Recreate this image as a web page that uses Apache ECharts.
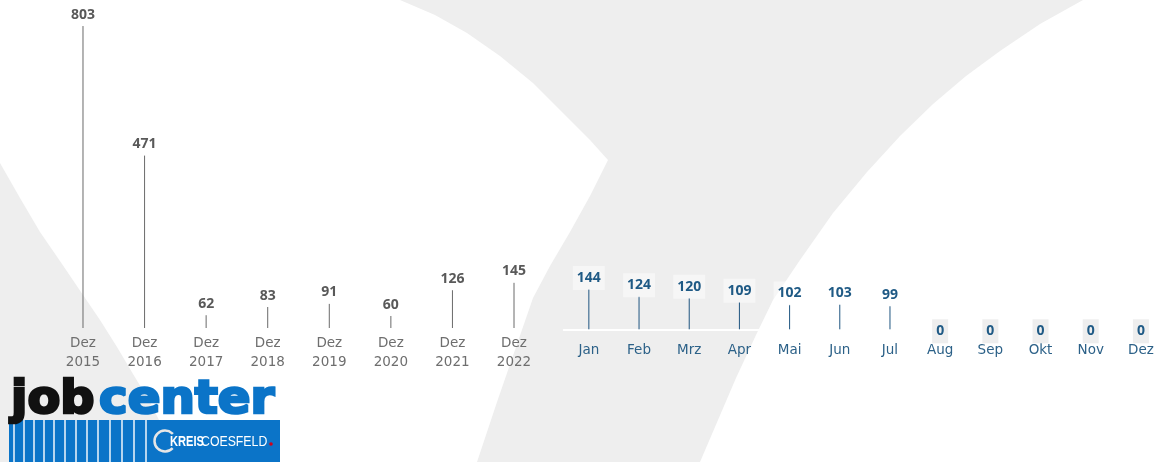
<!DOCTYPE html>
<html><head><meta charset="utf-8">
<script src="https://cdn.jsdelivr.net/npm/echarts@6/dist/echarts.min.js"></script>
<style>html,body{margin:0;padding:0;background:#fff}#c{width:1166px;height:462px}</style>
</head><body><div id="c"></div>
<script>
// ---- data ----
const annualCategories = ['Dez\n2015','Dez\n2016','Dez\n2017','Dez\n2018','Dez\n2019','Dez\n2020','Dez\n2021','Dez\n2022'];
const annualValues = [803, 471, 62, 83, 91, 60, 126, 145];
const monthCategories = ['Jan','Feb','Mrz','Apr','Mai','Jun','Jul','Aug','Sep','Okt','Nov','Dez'];
const monthValues = [144, 124, 120, 109, 102, 103, 99, 0, 0, 0, 0, 0];

// ---- rendering ----
const chart = echarts.init(document.getElementById('c'), null, {renderer: 'canvas'});
const BG = '#eeeeee';

function stemRenderer(lineColor, lineGap, labelDy, labelColor, boxColor) {
  return function (params, api) {
    const i = api.value(0), v = api.value(1);
    const p = api.coord([i, v]);
    const base = api.coord([i, 0]);
    const children = [];
    const yTop = p[1] + lineGap;
    if (yTop < base[1] - 1) {
      children.push({type: 'line', shape: {x1: p[0], y1: base[1], x2: p[0], y2: yTop},
        style: {stroke: lineColor, lineWidth: 1}});
    }
    children.push({type: 'text', x: p[0], y: p[1] + labelDy,
      style: {text: String(v), align: 'center', verticalAlign: 'middle', fill: labelColor,
        font: 'bold 14px "Open Sans"', backgroundColor: boxColor(v), padding: [5, 4, 5, 4]}});
    return {type: 'group', children: children};
  };
}

const leftShape = [[0,163],[20,198],[40,232],[62,264],[83,295],[100,320],[117,347],[133,374],[150,402],[165,432],[180,462],[0,462]];
const yShape = [[400,0],[435,15],[467,33],[500,56],[533,83],[567,117],[590,140],[608,160],[590,196],[570,232],[550,266],[533,298],[515,350],[497,402],[477,462],
  [700,462],[718,420],[736,378],[756,335],[773,300],[800,260],[833,213],[867,172],[900,136],[933,104],[966,76],[1000,51],[1040,24],[1083,0]];

const stripeXs = [14,24,34,44,54,65,76,87,98,110,122,134,146];
const logo = [
  {type: 'rect', shape: {x: 9, y: 420, width: 271, height: 42}, style: {fill: '#0b74c8'}, z: 10},
].concat(stripeXs.map(x => ({type: 'line', shape: {x1: x, y1: 420, x2: x, y2: 462}, style: {stroke: '#ffffff', lineWidth: 1.4}, z: 11})))
 .concat([
  {type: 'text', x: 11, y: 401, scaleX: 1.04, style: {text: 'job', font: 'bold 46px "DejaVu Sans"', fill: '#111111', stroke: '#111111', lineWidth: 2.6, verticalAlign: 'middle'}, z: 12},
  {type: 'text', x: 99, y: 401, scaleX: 1.05, style: {text: 'center', font: 'bold 46px "DejaVu Sans"', fill: '#0b74c8', stroke: '#0b74c8', lineWidth: 2.6, verticalAlign: 'middle'}, z: 12},
  {type: 'arc', shape: {cx: 165, cy: 441, r: 10.5, startAngle: 0.75, endAngle: 5.55}, style: {stroke: '#e6e6e6', lineWidth: 2.5, fill: null}, z: 12},
  {type: 'text', x: 170, y: 442, scaleX: 0.74, style: {text: 'KREIS', font: 'bold 15px "Liberation Sans"', fill: '#ffffff', verticalAlign: 'middle'}, z: 12},
  {type: 'text', x: 201, y: 442, scaleX: 0.82, style: {text: 'COESFELD', font: '15px "Liberation Sans"', fill: '#ffffff', verticalAlign: 'middle'}, z: 12},
  {type: 'circle', shape: {cx: 271, cy: 444, r: 1.8}, style: {fill: '#d0021b'}, z: 12}
]);

const option = {
  backgroundColor: '#ffffff',
  animation: false,
  graphic: [
    {type: 'polygon', shape: {points: leftShape}, style: {fill: BG}, z: -100, silent: true},
    {type: 'polygon', shape: {points: yShape}, style: {fill: BG}, z: -100, silent: true}
  ].concat(logo),
  grid: [
    {left: 52.2, width: 492.6, top: 8, height: 320},
    {left: 563.75, width: 605.5, top: 25.1, height: 304.2}
  ],
  xAxis: [
    {type: 'category', gridIndex: 0, data: annualCategories,
      axisLine: {show: false}, axisTick: {show: false}, splitLine: {show: false},
      axisLabel: {margin: 5.5, color: '#6e6e6e', fontFamily: 'DejaVu Sans', fontSize: 13.5, lineHeight: 19}},
    {type: 'category', gridIndex: 1, data: monthCategories,
      axisLine: {show: true, lineStyle: {color: '#ffffff', width: 2}}, axisTick: {show: false}, splitLine: {show: false},
      axisLabel: {margin: 11.2, color: '#2c6188', fontFamily: 'DejaVu Sans', fontSize: 13.5, lineHeight: 19}}
  ],
  yAxis: [
    {type: 'value', gridIndex: 0, min: 0, max: 820, show: false},
    {type: 'value', gridIndex: 1, min: 0, max: 820, show: false}
  ],
  series: [
    {type: 'custom', xAxisIndex: 0, yAxisIndex: 0, encode: {x: 0, y: 1},
      data: annualValues.map((v, i) => [i, v]),
      renderItem: stemRenderer('#6a6a6a', 11.4, 0, '#595959', () => 'rgba(0,0,0,0)')},
    {type: 'custom', xAxisIndex: 1, yAxisIndex: 1, encode: {x: 0, y: 1},
      data: monthValues.map((v, i) => [i, v]),
      renderItem: stemRenderer('#1f5580', 13.4, 2, '#1f5a85', v => v === 0 ? '#eeeeee' : 'rgba(255,255,255,0.45)')}
  ]
};
chart.setOption(option);
</script></body></html>
